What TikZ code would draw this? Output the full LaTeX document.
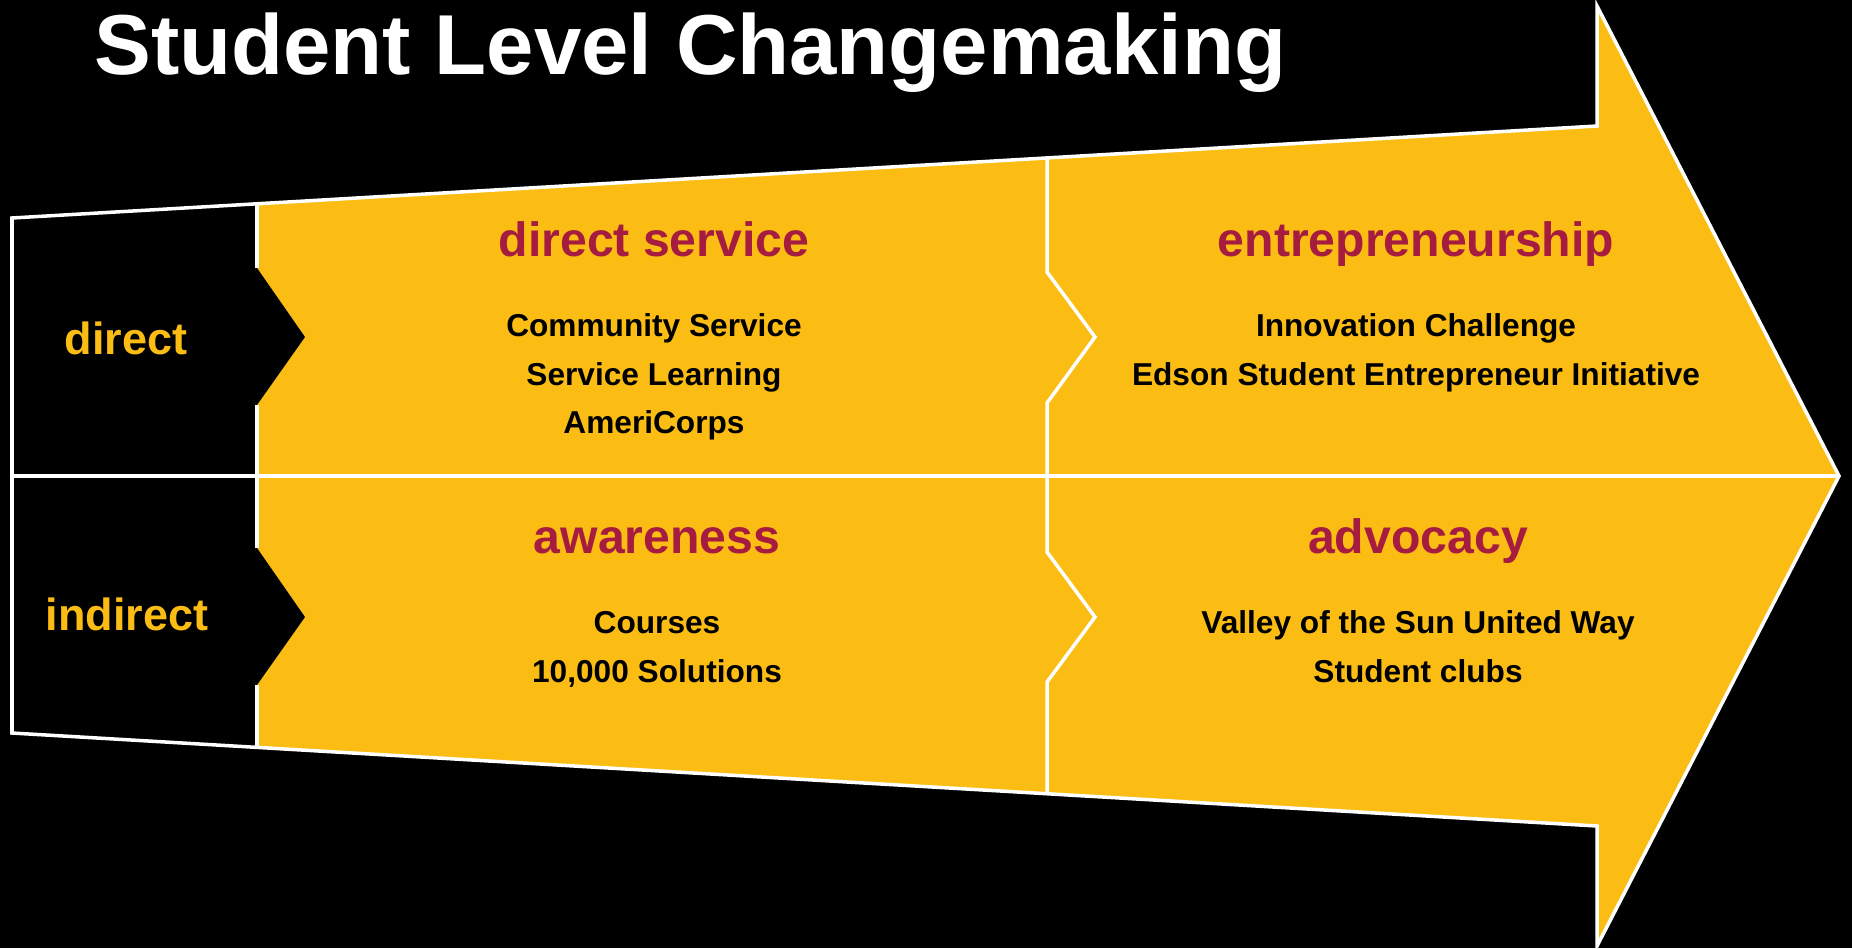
\documentclass[tikz,border=0pt]{standalone}
\usepackage{fontspec}
\setmainfont{Liberation Sans}
\usetikzlibrary{positioning}
\definecolor{asugold}{RGB}{251,189,19}
\definecolor{asumaroon}{RGB}{165,28,64}

\begin{document}
\begin{tikzpicture}[x=0.01cm,y=-0.01cm,node distance=10.3pt,
    outline/.style={draw=white,line width=1pt,line join=miter},
    heading/.style={
    % cell headings
    font=\fontsize{13.7}{16}\selectfont\bfseries,text=asumaroon,
    inner sep=0pt,text height=10pt,text depth=3pt},
    item/.style={
    % one line of a cell list
    font=\fontsize{9}{11}\selectfont\bfseries,text=black,
    inner xsep=0pt,inner ysep=1.2pt,text height=8pt,text depth=3pt},
    level/.style={font=\fontsize{12.8}{15}\selectfont\bfseries,
    text=asugold,inner sep=0pt,anchor=base}]

  % background
  \fill[black] (0,0) rectangle (1852,948);

  % the big arrow
  \fill[asugold] (12,218) -- (1597,126) -- (1597,6) -- (1839,476)
    -- (1597,946) -- (1597,826) -- (12,733) -- cycle;
  % left column with its two chevrons
  \fill[black] (12,218) -- (257,204) -- (257,268) -- (305,337) -- (257,405)
    -- (257,548) -- (305,617) -- (257,685) -- (257,747) -- (12,733) -- cycle;
  \draw[outline] (12,218) -- (1597,126) -- (1597,6) -- (1839,476)
    -- (1597,946) -- (1597,826) -- (12,733) -- cycle;
  \draw[outline] (12,476) -- (1839,476);
  \draw[outline] (257,204) -- (257,268) (257,405) -- (257,548) (257,685) -- (257,747);
  \draw[outline] (1047,158) -- (1047,272) -- (1095,337) -- (1047,403)
    -- (1047,552) -- (1095,617) -- (1047,682) -- (1047,794);

  \node (title) [anchor=base west,text=white,
    font=\fontsize{24.2}{28}\selectfont\bfseries] at (82,74) {Student Level Changemaking};

  \node (direct) [level] at (126,354) {direct};
  \node (indirect) [level] at (127,630) {indirect};

  \node (service) [heading,anchor=base] at (654,256) {direct service};
  \node (community) [item,below=of service] {Community Service};
  \node (learning) [item,below=0pt of community] {Service Learning};
  \node (americorps) [item,below=0pt of learning] {AmeriCorps};

  \node (entre) [heading,anchor=base] at (1416,256) {entrepreneurship};
  \node (innovation) [item,below=of entre] {Innovation Challenge};
  \node (edson) [item,below=0pt of innovation] {Edson Student Entrepreneur Initiative};

  \node (awareness) [heading,anchor=base] at (657,553) {awareness};
  \node (courses) [item,below=of awareness] {Courses};
  \node (solutions) [item,below=0pt of courses] {10,000 Solutions};

  \node (advocacy) [heading,anchor=base] at (1418,553) {advocacy};
  \node (valley) [item,below=of advocacy] {Valley of the Sun United Way};
  \node (clubs) [item,below=0pt of valley] {Student clubs};
\end{tikzpicture}
\end{document}
